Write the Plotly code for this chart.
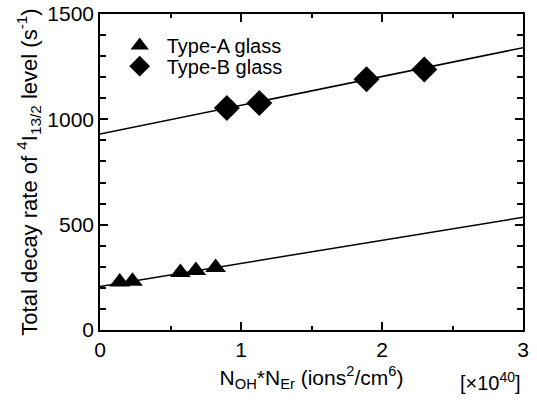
import plotly.graph_objects as go

# Data
a_x = [0.14, 0.23, 0.57, 0.68, 0.82]
a_y = [228, 232, 273, 283, 297]
b_x = [0.90, 1.13, 1.89, 2.30]
b_y = [1054, 1077, 1190, 1237]
fit_x = [0, 3]
fit_a = [207, 535]
fit_b = [930, 1340]

FONT = "Liberation Sans, Arial, sans-serif"

fig = go.Figure()
fig.add_trace(go.Scatter(x=fit_x, y=fit_a, mode="lines", line=dict(color="black", width=1.5),
                         showlegend=False, hoverinfo="skip"))
fig.add_trace(go.Scatter(x=fit_x, y=fit_b, mode="lines", line=dict(color="black", width=1.5),
                         showlegend=False, hoverinfo="skip"))
fig.add_trace(go.Scatter(x=a_x, y=a_y, mode="markers", name="Type-A glass", legend="legend",
                         marker=dict(symbol="triangle-up", size=18, color="black")))
fig.add_trace(go.Scatter(x=b_x, y=b_y, mode="markers", name="Type-B glass", legend="legend2",
                         marker=dict(symbol="diamond", size=20, color="black")))

axis_common = dict(showgrid=False, zeroline=False, showline=True, linecolor="black", linewidth=1.5,
                   mirror="allticks", ticks="inside", tickcolor="black", tickwidth=1.5, ticklen=8,
                   tickfont=dict(family=FONT, size=21, color="black"))

fig.update_xaxes(range=[0, 3], tick0=0, dtick=1,
                 minor=dict(dtick=0.5, ticks="inside", ticklen=4, tickcolor="black", tickwidth=1.5),
                 title=dict(text="N<sub>OH</sub>*N<sub>Er</sub> (ions<sup>2</sup>/cm<sup>6</sup>)",
                            font=dict(family=FONT, size=21, color="black"), standoff=10),
                 automargin=False, **axis_common)
fig.update_yaxes(range=[0, 1500], tick0=0, dtick=500,
                 minor=dict(dtick=100, ticks="inside", ticklen=6, tickcolor="black", tickwidth=1.5),
                 title=dict(text="Total decay rate of <sup>4</sup>I<sub>13/2</sub> level (s<sup>-1</sup>)",
                            font=dict(family=FONT, size=22, color="black"), standoff=4),
                 automargin=False, **axis_common)

fig.add_annotation(text="[×10<sup>40</sup>]", xref="paper", yref="paper", x=1.0, y=-0.163,
                   xanchor="right", yanchor="middle", showarrow=False,
                   font=dict(family=FONT, size=20, color="black"))

legend_common = dict(x=0.03, xanchor="left", yanchor="middle", bgcolor="rgba(0,0,0,0)",
                     font=dict(family=FONT, size=20, color="black"), itemsizing="trace",
                     itemwidth=44, tracegroupgap=0)

fig.update_layout(
    width=537, height=400,
    margin=dict(l=100, r=14, t=14, b=70),
    paper_bgcolor="white", plot_bgcolor="white",
    font=dict(family=FONT, color="black"),
    legend=dict(y=0.9, **legend_common),
    legend2=dict(y=0.835, **legend_common),
)

fig.write_html("out.html")
